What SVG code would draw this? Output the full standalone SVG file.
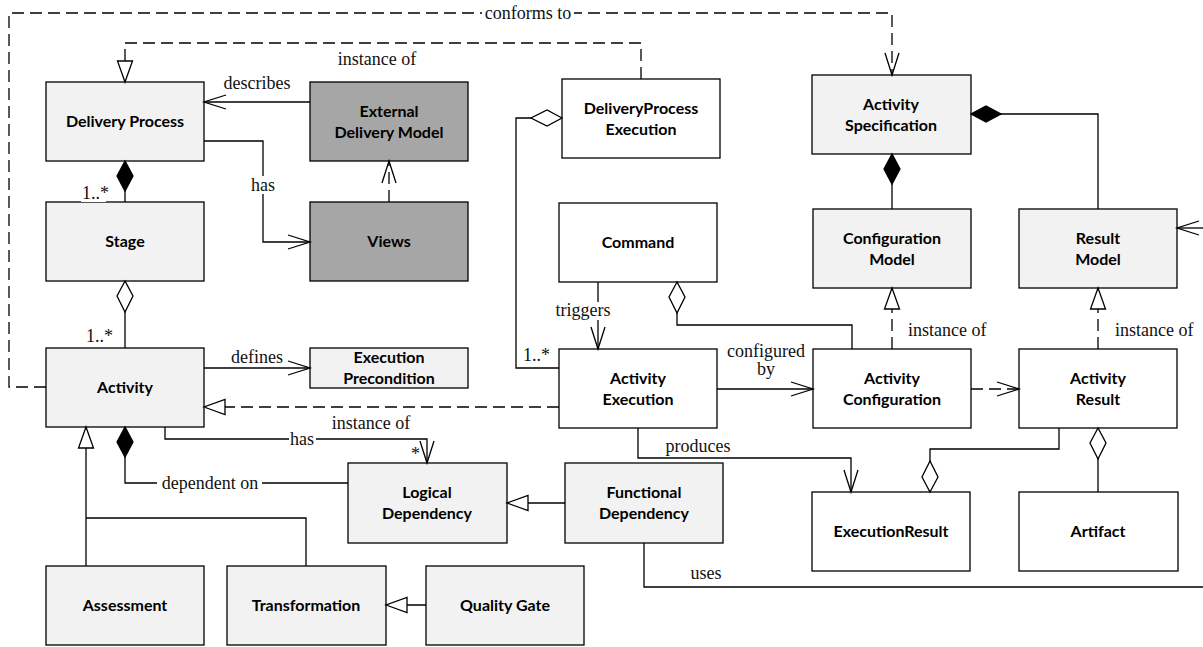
<svg xmlns="http://www.w3.org/2000/svg" width="1203" height="647" viewBox="0 0 1203 647">
<style>
.box{stroke:#000;stroke-width:1.3}
.lt{fill:#f2f2f2}
.dk{fill:#a6a6a6}
.wh{fill:#fff}
.nt{font-family:Lato,"Liberation Sans",sans-serif;font-weight:bold;font-size:16px;fill:#000;text-anchor:middle}
.c{fill:none;stroke:#000;stroke-width:1.3}
.d{stroke-dasharray:12 6}
.lb{font-family:"Liberation Serif",serif;font-size:18px;fill:#111}
.m{text-anchor:middle}
.bg{fill:#fff}
.vee{marker-end:url(#vee)}
.tri{marker-end:url(#tri)}
.hd{marker-end:url(#hd)}
.fd{marker-end:url(#fd)}
</style>
<defs>
<marker id="vee" markerUnits="userSpaceOnUse" orient="auto" refX="0" refY="0" markerWidth="30" markerHeight="20" overflow="visible"><path d="M-22,-7 L0,0 L-22,7" fill="none" stroke="#000" stroke-width="1.3"/></marker>
<marker id="tri" markerUnits="userSpaceOnUse" orient="auto" refX="0" refY="0" markerWidth="30" markerHeight="20" overflow="visible"><path d="M0,0 L-21,-7.5 L-21,7.5 Z" fill="#fff" stroke="#000" stroke-width="1.3"/></marker>
<marker id="hd" markerUnits="userSpaceOnUse" orient="auto" refX="0" refY="0" markerWidth="40" markerHeight="20" overflow="visible"><path d="M0,0 L-15,-8 L-31,0 L-15,8 Z" fill="#fff" stroke="#000" stroke-width="1.3"/></marker>
<marker id="fd" markerUnits="userSpaceOnUse" orient="auto" refX="0" refY="0" markerWidth="40" markerHeight="20" overflow="visible"><path d="M0,0 L-15,-8 L-30,0 L-15,8 Z" fill="#000" stroke="#000" stroke-width="1.3"/></marker>
</defs>
<rect width="1203" height="647" fill="#fff"/>

<g id="node-delivery-process"><rect class="box lt" x="46" y="82" width="158" height="79"/><text class="nt" x="125" y="127">Delivery Process</text></g>
<g id="node-external-delivery-model"><rect class="box dk" x="310" y="82" width="158" height="79"/><text class="nt" x="389" y="117">External</text><text class="nt" x="389" y="138">Delivery Model</text></g>
<g id="node-deliveryprocess-execution"><rect class="box wh" x="562" y="79" width="158" height="79"/><text class="nt" x="641" y="114">DeliveryProcess</text><text class="nt" x="641" y="135">Execution</text></g>
<g id="node-activity-specification"><rect class="box lt" x="812" y="75" width="159" height="79"/><text class="nt" x="891" y="110">Activity</text><text class="nt" x="891" y="131">Specification</text></g>
<g id="node-stage"><rect class="box lt" x="46" y="202" width="158" height="79"/><text class="nt" x="125" y="247">Stage</text></g>
<g id="node-views"><rect class="box dk" x="310" y="202" width="158" height="79"/><text class="nt" x="389" y="247">Views</text></g>
<g id="node-command"><rect class="box wh" x="559" y="203" width="158" height="79"/><text class="nt" x="638" y="248">Command</text></g>
<g id="node-configuration-model"><rect class="box lt" x="813" y="209" width="158" height="79"/><text class="nt" x="892" y="244">Configuration</text><text class="nt" x="892" y="265">Model</text></g>
<g id="node-result-model"><rect class="box lt" x="1019" y="209" width="158" height="79"/><text class="nt" x="1098" y="244">Result</text><text class="nt" x="1098" y="265">Model</text></g>
<g id="node-activity"><rect class="box lt" x="46" y="348" width="158" height="79"/><text class="nt" x="125" y="393">Activity</text></g>
<g id="node-execution-precondition"><rect class="box lt" x="310" y="348" width="158" height="40"/><text class="nt" x="389" y="363">Execution</text><text class="nt" x="389" y="384">Precondition</text></g>
<g id="node-activity-execution"><rect class="box wh" x="559" y="349" width="158" height="79"/><text class="nt" x="638" y="384">Activity</text><text class="nt" x="638" y="405">Execution</text></g>
<g id="node-activity-configuration"><rect class="box wh" x="813" y="349" width="158" height="79"/><text class="nt" x="892" y="384">Activity</text><text class="nt" x="892" y="405">Configuration</text></g>
<g id="node-activity-result"><rect class="box wh" x="1019" y="349" width="158" height="79"/><text class="nt" x="1098" y="384">Activity</text><text class="nt" x="1098" y="405">Result</text></g>
<g id="node-logical-dependency"><rect class="box lt" x="348" y="463" width="159" height="80"/><text class="nt" x="427" y="498">Logical</text><text class="nt" x="427" y="519">Dependency</text></g>
<g id="node-functional-dependency"><rect class="box lt" x="565" y="463" width="158" height="80"/><text class="nt" x="644" y="498">Functional</text><text class="nt" x="644" y="519">Dependency</text></g>
<g id="node-executionresult"><rect class="box wh" x="812" y="492" width="158" height="79"/><text class="nt" x="891" y="537">ExecutionResult</text></g>
<g id="node-artifact"><rect class="box wh" x="1019" y="492" width="159" height="79"/><text class="nt" x="1098" y="537">Artifact</text></g>
<g id="node-assessment"><rect class="box lt" x="46" y="566" width="158" height="79"/><text class="nt" x="125" y="611">Assessment</text></g>
<g id="node-transformation"><rect class="box lt" x="227" y="566" width="159" height="79"/><text class="nt" x="306" y="611">Transformation</text></g>
<g id="node-quality-gate"><rect class="box lt" x="426" y="566" width="158" height="79"/><text class="nt" x="505" y="611">Quality Gate</text></g>

<g id="connectors">
<path class="c d vee" d="M46,387 H9 V13 H892 V75"/>
<rect class="bg" x="482" y="5" width="92" height="17"/>
<text class="lb m" x="528" y="19">conforms to</text>

<path class="c d tri" d="M641,79 V43 H125 V82"/>
<text class="lb m" x="377" y="65">instance of</text>

<path class="c vee" d="M310,102 H204"/>
<text class="lb m" x="257" y="89">describes</text>

<path class="c vee" d="M204,141 H263 V242 H310"/>
<rect class="bg" x="249" y="176" width="28" height="18"/>
<text class="lb m" x="263" y="191">has</text>

<path class="c d vee" d="M389,202 V161"/>

<path class="c fd" d="M125,202 V161"/>
<rect class="bg" x="81" y="185" width="25" height="17"/>
<text class="lb" x="82" y="199">1..*</text>

<path class="c hd" d="M125,348 V281"/>
<text class="lb" x="86" y="342">1..*</text>

<path class="c vee" d="M204,368 H310"/>
<text class="lb m" x="257" y="363">defines</text>

<path class="c d tri" d="M559,407 H204"/>
<text class="lb m" x="371" y="429">instance of</text>

<path class="c vee" d="M165,427 V439 H427 V463"/>
<rect class="bg" x="289" y="430" width="27" height="17"/>
<text class="lb m" x="302" y="445">has</text>
<text class="lb" x="411" y="460">*</text>

<path class="c fd" d="M348,483 H125 V427"/>
<rect class="bg" x="157" y="474" width="105" height="18"/>
<text class="lb m" x="210" y="489">dependent on</text>

<path class="c tri" d="M86,566 V427"/>
<path class="c" d="M306,566 V518 H86"/>
<path class="c tri" d="M426,605 H386"/>
<path class="c tri" d="M565,503 H507"/>

<path class="c" d="M644,543 V587 H1203"/>
<text class="lb m" x="706" y="579">uses</text>
<path class="c vee" d="M1203,228 H1177"/>

<path class="c vee" d="M638,428 V458 H851 V492"/>
<text class="lb m" x="698" y="452">produces</text>

<path class="c hd" d="M1059,428 V449 H930 V492"/>
<path class="c hd" d="M1098,492 V428"/>

<path class="c fd" d="M892,209 V154"/>
<path class="c fd" d="M1098,209 V114 H971"/>

<path class="c d tri" d="M892,349 V288"/>
<text class="lb" x="908" y="336">instance of</text>
<path class="c d tri" d="M1098,349 V288"/>
<text class="lb" x="1115" y="336">instance of</text>

<path class="c d vee" d="M971,389 H1019"/>

<path class="c vee" d="M717,389 H813"/>
<text class="lb m" x="766" y="357">configured</text>
<text class="lb m" x="766" y="375">by</text>

<path class="c vee" d="M598,282 V349"/>
<rect class="bg" x="553" y="302" width="60" height="18"/>
<text class="lb m" x="583" y="316">triggers</text>

<path class="c hd" d="M852,349 V325 H677 V282"/>

<path class="c hd" d="M559,368 H516 V118 H562"/>
<text class="lb" x="523" y="361">1..*</text>
</g>
</svg>
